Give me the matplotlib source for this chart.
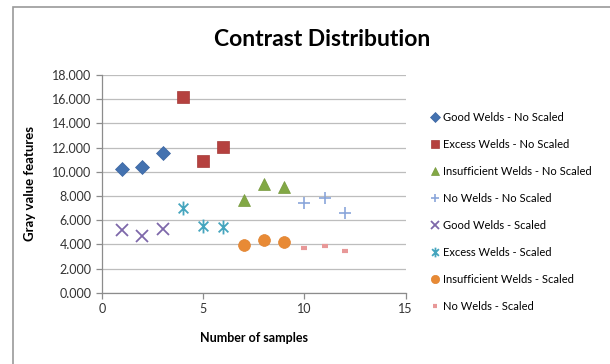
import matplotlib
matplotlib.use("Agg")
import matplotlib.pyplot as plt
from matplotlib.path import Path
from matplotlib.patches import Rectangle

plt.rcParams['font.family'] = ['Lato', 'DejaVu Sans']

# Sample numbers for each weld class
x_good = [1, 2, 3]
x_excess = [4, 5, 6]
x_insuff = [7, 8, 9]
x_none = [10, 11, 12]

# Contrast values, unscaled
good_no_scaled = [10.20, 10.42, 11.58]
excess_no_scaled = [16.15, 10.90, 12.02]
insuff_no_scaled = [7.70, 9.00, 8.75]
none_no_scaled = [7.39, 7.80, 6.62]

# Contrast values, scaled
good_scaled = [5.18, 4.71, 5.24]
excess_scaled = [7.03, 5.54, 5.40]
insuff_scaled = [3.91, 4.35, 4.22]
none_scaled = [3.72, 3.86, 3.42]

labels = [
    "Good Welds - No Scaled",
    "Excess Welds - No Scaled",
    "Insufficient Welds - No Scaled",
    "No Welds - No Scaled",
    "Good Welds - Scaled",
    "Excess Welds - Scaled",
    "Insufficient Welds - Scaled",
    "No Welds - Scaled",
]
y_ticks = [0, 2, 4, 6, 8, 10, 12, 14, 16, 18]
x_ticks = [0, 5, 10, 15]

# asterisk-style marker: an x crossed by a vertical stroke
star = Path(
    [(-0.7, -0.7), (0.7, 0.7), (-0.7, 0.7), (0.7, -0.7), (0, -1), (0, 1)],
    [Path.MOVETO, Path.LINETO, Path.MOVETO, Path.LINETO, Path.MOVETO, Path.LINETO],
)

series = [
    (x_good, good_no_scaled, dict(marker='D', color='#4472B0', ms=7.5, mec='#3A64A0', mew=0.5)),
    (x_excess, excess_no_scaled, dict(marker='s', color='#B5413F', ms=8.5, mec='#A53A38', mew=0.5)),
    (x_insuff, insuff_no_scaled, dict(marker='^', color='#82A845', ms=9, mec='#76993C', mew=0.5)),
    (x_none, none_no_scaled, dict(marker='+', color='#8AA6DA', ms=9, mew=1.2)),
    (x_good, good_scaled, dict(marker='x', color='#7E68AA', ms=8, mew=1.3)),
    (x_excess, excess_scaled, dict(marker=star, color='#45A5BE', ms=10, mew=1.3, mfc='none')),
    (x_insuff, insuff_scaled, dict(marker='o', color='#E88A35', ms=8.5, mec='#E08330', mew=0.5)),
    (x_none, none_scaled, dict(marker='_', color='#E89898', ms=5, mew=3)),
]

fig = plt.figure(figsize=(6.10, 3.64), dpi=100)
fig.patches.append(Rectangle((13 / 610, -0.05), 1.1, 1 - 7 / 364 + 0.05,
                             transform=fig.transFigure, fill=False,
                             edgecolor='#9A9A9A', linewidth=1.2))

ax = fig.add_axes([102 / 610, 1 - 292.7 / 364, (405.7 - 102) / 610, (292.7 - 75) / 364])

handles = []
for xs, ys, kw in series:
    h, = ax.plot(xs, ys, linestyle='none', **kw)
    handles.append(h)

ax.set_xlim(0, 15)
ax.set_ylim(0, 18)
ax.set_xticks(x_ticks)
ax.set_yticks(y_ticks)
ax.set_yticklabels([f"{v:.3f}" for v in y_ticks])
ax.grid(axis='y', color='#BDBDBD', linewidth=0.9)
ax.set_axisbelow(True)
for side in ('top', 'right'):
    ax.spines[side].set_visible(False)
for side in ('left', 'bottom'):
    ax.spines[side].set_color('#8C8C8C')
    ax.spines[side].set_linewidth(0.9)
ax.tick_params(axis='both', colors='#8C8C8C', length=4, width=0.9,
               labelcolor='#333333', labelsize=9)

ax.set_xlabel("Number of samples", fontsize=9, fontweight='bold', labelpad=12)
ax.set_ylabel("Gray value features", fontsize=9.5, fontweight='bold', labelpad=12)

fig.text(322 / 610, 1 - 40 / 364, "Contrast Distribution", fontsize=16.5,
         fontweight='bold', ha='center', va='center')

fig.legend(handles, labels, loc='upper left',
           bbox_to_anchor=(430 / 610, 1 - 112 / 364), frameon=False,
           fontsize=8, labelspacing=1.44, handlelength=0.9, handletextpad=0.3,
           borderpad=0, borderaxespad=0, markerscale=0.7)

fig.savefig("out.png", dpi=100)
